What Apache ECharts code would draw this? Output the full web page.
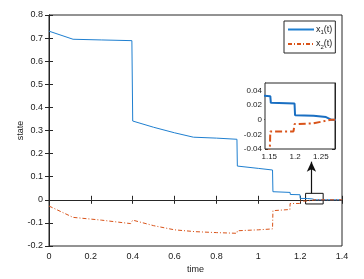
<!DOCTYPE html>
<html><head><meta charset="utf-8">
<script src="https://cdn.jsdelivr.net/npm/echarts@6/dist/echarts.min.js"></script>
<style>html,body{margin:0;padding:0;background:#fff}#c{width:364px;height:279px}</style>
</head><body><div id="c"></div>
<script>
// x1(t) samples
const t1 = [0, 0.115, 0.25, 0.396, 0.4, 0.5, 0.6, 0.69, 0.8, 0.898, 0.9, 1.0, 1.068, 1.07, 1.152, 1.153, 1.199, 1.2, 1.236, 1.237, 1.26, 1.261, 1.27, 1.4];
const x1 = [0.73, 0.695, 0.692, 0.689, 0.341, 0.314, 0.29, 0.271, 0.267, 0.262, 0.146, 0.136, 0.129, 0.035, 0.032, 0.023, 0.022, 0.006, 0.0055, 0.0037, 0.0035, 0.0014, 0.0, 0.0];
// x2(t) samples
const t2 = [0, 0.115, 0.25, 0.39, 0.4, 0.5, 0.6, 0.7, 0.8, 0.898, 0.9, 1.0, 1.068, 1.07, 1.151, 1.152, 1.197, 1.199, 1.236, 1.237, 1.27, 1.4];
const x2 = [-0.027, -0.076, -0.088, -0.103, -0.088, -0.112, -0.13, -0.138, -0.142, -0.145, -0.134, -0.13, -0.126, -0.047, -0.042, -0.016, -0.016, -0.006, -0.005, -0.003, 0, 0];
// ticks
const xTicks = [0, 0.2, 0.4, 0.6, 0.8, 1, 1.2, 1.4];
const yTicks = [-0.2, -0.1, 0, 0.1, 0.2, 0.3, 0.4, 0.5, 0.6, 0.7, 0.8];
const insetXTicks = [1.15, 1.2, 1.25];
const insetYTicks = [-0.04, -0.02, 0, 0.02, 0.04];
// zoom box and arrow (data coords)
const zoomBox = [[1.226, 0.028], [1.31, -0.018]];
const arrowPts = [[1.254, 0.028], [1.254, 0.165]];

const d1 = t1.map((t, i) => [t, x1[i]]);
const d2 = t2.map((t, i) => [t, x2[i]]);
const C1 = '#1f7fd0', C2 = '#D95319', AX = '#262626';
const FONT = 'Liberation Sans';
const lab = {color: '#1a1a1a', fontSize: 9, fontFamily: FONT};

const chart = echarts.init(document.getElementById('c'), null, {renderer: 'canvas'});
const axLine = {show: true, lineStyle: {color: AX, width: 1}};
chart.setOption({
  animation: false,
  backgroundColor: '#fff',
  grid: [
    {left: 49, right: 22, top: 15, bottom: 33, show: true, borderColor: AX, borderWidth: 1, containLabel: false},
    {left: 265, top: 83, width: 70, height: 66, show: true, borderColor: AX, borderWidth: 1, backgroundColor: '#fff', z: 5}
  ],
  legend: {
    left: 284, top: 21, orient: 'vertical', itemWidth: 26, itemHeight: 8, itemGap: 4,
    padding: [4, 3, 3, 3],
    borderColor: AX, borderWidth: 1, backgroundColor: '#fff',
    itemStyle: {opacity: 0},
    data: ['x1', 'x2'],
    formatter: n => n === 'x1' ? 'x{s|1}(t)' : 'x{s|2}(t)',
    textStyle: {color: '#1a1a1a', fontSize: 9, fontFamily: FONT, padding: [0, 0, 0, -3],
      rich: {s: {fontSize: 6, verticalAlign: 'bottom', padding: [6, 0, 0, 0], fontFamily: FONT}}}
  },
  xAxis: [
    {gridIndex: 0, type: 'value', min: 0, max: 1.4, interval: 0.2, name: 'time', nameLocation: 'middle', nameGap: 19,
      nameMoveOverlap: false,
      nameTextStyle: lab, axisLine: axLine, axisTick: {inside: true, length: 4, lineStyle: {color: AX}},
      axisLabel: Object.assign({margin: 6, formatter: v => String(+v.toFixed(1))}, lab), splitLine: {show: false}},
    {gridIndex: 0, type: 'value', position: 'top', min: 0, max: 1.4, interval: 0.2,
      axisLine: axLine, axisTick: {inside: true, length: 4, lineStyle: {color: AX}}, axisLabel: {show: false}, splitLine: {show: false}},
    {gridIndex: 1, type: 'value', min: 1.1417, max: 1.2775,
      axisLine: axLine, axisTick: {inside: true, length: 3, customValues: insetXTicks, lineStyle: {color: AX}},
      axisLabel: Object.assign({customValues: insetXTicks, margin: 4, formatter: v => String(+v.toFixed(2))}, lab, {fontSize: 8}),
      splitLine: {show: false}},
    {gridIndex: 1, type: 'value', position: 'top', min: 1.1417, max: 1.2775,
      axisLine: axLine, axisTick: {inside: true, length: 3, customValues: insetXTicks, lineStyle: {color: AX}},
      axisLabel: {show: false}, splitLine: {show: false}}
  ],
  yAxis: [
    {gridIndex: 0, type: 'value', min: -0.2, max: 0.8, interval: 0.1, name: 'state', nameLocation: 'middle', nameGap: 24,
      nameMoveOverlap: false,
      nameTextStyle: lab, axisLine: axLine, axisTick: {inside: true, length: 4, lineStyle: {color: AX}},
      axisLabel: Object.assign({margin: 6, formatter: v => String(+v.toFixed(1))}, lab), splitLine: {show: false}},
    {gridIndex: 0, type: 'value', position: 'right', min: -0.2, max: 0.8, interval: 0.1,
      axisLine: axLine, axisTick: {inside: true, length: 4, lineStyle: {color: AX}}, axisLabel: {show: false}, splitLine: {show: false}},
    {gridIndex: 1, type: 'value', min: -0.04, max: 0.05,
      axisLine: axLine, axisTick: {inside: true, length: 3, customValues: insetYTicks, lineStyle: {color: AX}},
      axisLabel: Object.assign({customValues: insetYTicks, margin: 3, formatter: v => String(+v.toFixed(2))}, lab, {fontSize: 8}),
      splitLine: {show: false}},
    {gridIndex: 1, type: 'value', position: 'right', min: -0.04, max: 0.05,
      axisLine: axLine, axisTick: {inside: true, length: 3, customValues: insetYTicks, lineStyle: {color: AX}},
      axisLabel: {show: false}, splitLine: {show: false}}
  ],
  series: [
    {name: 'x1', type: 'line', xAxisIndex: 0, yAxisIndex: 0, data: d1, showSymbol: false, symbol: 'none',
      lineStyle: {color: C1, width: 1}, itemStyle: {color: C1}, z: 3,
      markArea: {silent: true, itemStyle: {color: 'rgba(0,0,0,0)', borderColor: '#111', borderWidth: 1},
        data: [[{coord: zoomBox[0]}, {coord: zoomBox[1]}]]},
      markLine: {silent: true, symbol: ['none', 'arrow'], symbolSize: [7, 10], label: {show: false},
        lineStyle: {color: '#111', width: 1.2, type: 'solid'},
        data: [[{coord: arrowPts[0]}, {coord: arrowPts[1]}]]}},
    {name: 'x2', type: 'line', xAxisIndex: 0, yAxisIndex: 0, data: d2, showSymbol: false, symbol: 'none',
      lineStyle: {color: C2, width: 1, type: [4, 2, 1, 2]}, itemStyle: {color: C2}, z: 3},
    {name: 'x1i', type: 'line', xAxisIndex: 2, yAxisIndex: 2, data: d1, showSymbol: false, symbol: 'none', clip: true,
      lineStyle: {color: '#1a6fc2', width: 2}, z: 6},
    {name: 'x2i', type: 'line', xAxisIndex: 2, yAxisIndex: 2, data: d2, showSymbol: false, symbol: 'none', clip: true,
      lineStyle: {color: C2, width: 2, type: [7, 3, 2, 3]}, z: 6}
  ]
});
</script></body></html>
